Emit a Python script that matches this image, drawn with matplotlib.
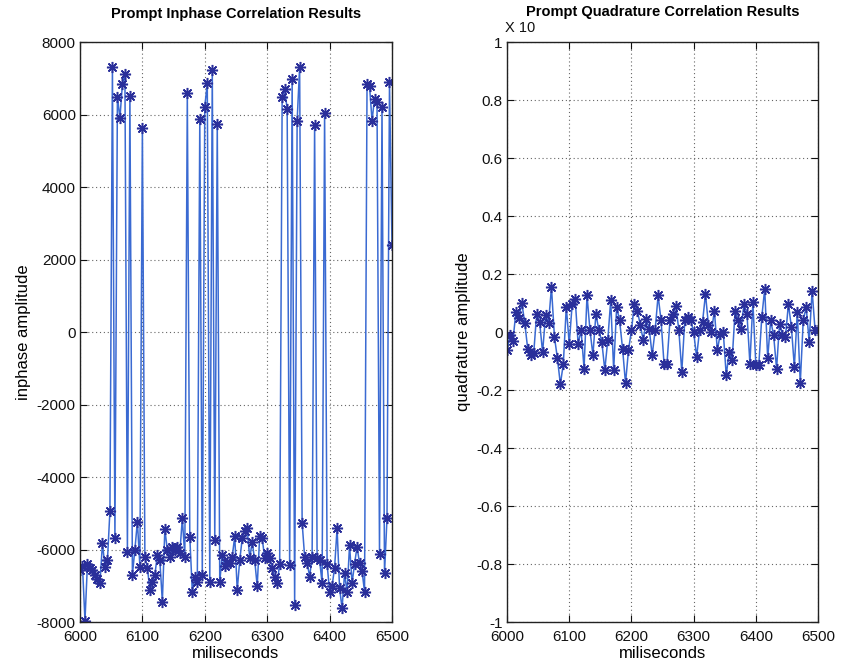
import numpy as np
import matplotlib
matplotlib.use("Agg")
import matplotlib.pyplot as plt

plt.rcParams['font.family'] = ['Liberation Sans', 'DejaVu Sans']
plt.rcParams['axes.unicode_minus'] = False

# In-phase prompt correlator output (one sample every 4 ms, 6000..6500 ms)
inphase = [
    -6570, -6450, -7960, -6390, -6500, -6570, -6700, -6800, -6930, -5830,
    -6470, -6300, -4930, 7300, -5690, 6490, 5900, 6840, 7120, -6060,
    6520, -6700, -6000, -5230, -6470, 5640, -6200, -6500, -7120, -6890,
    -6700, -6150, -6300, -7440, -5440, -6010, -6200, -5940, -6000, -5920,
    -6100, -5140, -6200, 6600, -5660, -7160, -6750, -6900, 5880, -6700,
    6220, 6860, -6890, 7230, -5740, 5740, -6890, -6150, -6460, -6360,
    -6360, -6200, -5630, -7120, -6300, -5690, -5480, -5420, -6240, -5790,
    -6300, -7010, -5630, -5690, -6240, -6100, -6240, -6500, -6750, -6930,
    -6400, 6490, 6700, 6150, -6430, 6980, -7530, 5830, 7310, -5260,
    -6200, -6360, -6750, -6200, 5710, -6240, -6300, -6930, 6050, -6400,
    -7160, -7010, -6500, -5420, -7070, -7620, -6660, -7180, -5880, -6930,
    -6400, -5920, -6380, -6600, -7160, 6830, 6790, 5830, 6440, 6350,
    -6120, 6220, -6660, -5140, 6890, 2400,
]

# Quadrature prompt correlator output (raw units, axis shown as x 10^4)
quadrature = [
    -630, -110, -300, 700, 500, 1000, 300, -600, -800, -740,
    630, 340, -700, 570, 300, 1540, -170, -900, -1800, -1100,
    860, -400, 970, 1140, -400, 60, -1260, 1260, 60, -800,
    630, 60, -340, -1310, -290, 1090, -1310, 860, 400, -570,
    -1770, -630, 60, 970, 740, 230, -290, 460, 110, -800,
    60, 1260, 400, -1090, -1090, 400, 630, 910, 60, -1370,
    400, 510, 400, 0, -860, 60, 340, 1310, 230, 0,
    740, -630, -60, 0, -1490, -690, -970, 740, 400, 110,
    970, 630, -1090, 1030, -1140, -1140, 510, 1490, -910, 400,
    -110, -1260, 290, -110, -170, 970, 170, -1200, 690, -1770,
    400, 860, -340, 1430, 60, 60,
]

t_start, t_end = 6000, 6500
ms_i = np.linspace(t_start, t_end, len(inphase))
ms_q = np.linspace(t_start, t_end, len(quadrature))

x_ticks = [6000, 6100, 6200, 6300, 6400, 6500]
yi_ticks = [-8000, -6000, -4000, -2000, 0, 2000, 4000, 6000, 8000]
yq_ticks = [-1, -0.8, -0.6, -0.4, -0.2, 0, 0.2, 0.4, 0.6, 0.8, 1]
yq_labels = ['-1', '-0.8', '-0.6', '-0.4', '-0.2', '0', '0.2', '0.4', '0.6', '0.8', '1']

line_c = '#3a6ad2'
mark_c = '#2a2f9a'
asterisk = (8, 2, 0)

fig = plt.figure(figsize=(8.41, 6.72), dpi=100)
fig.patch.set_facecolor('white')

ax1 = fig.add_axes([0.0951, 0.0744, 0.3710, 0.8631])
ax2 = fig.add_axes([0.6029, 0.0744, 0.3698, 0.8631])

def style(ax):
    ax.set_xlim(t_start, t_end)
    ax.set_xticks(x_ticks)
    ax.grid(True, linestyle=(0, (1, 2.5)), color='#666666', linewidth=0.8)
    ax.tick_params(direction='in', top=True, right=True, length=5,
                   labelsize=11, colors='#111111')
    ax.tick_params(axis='x', pad=6)
    ax.tick_params(axis='y', pad=3)
    for s in ax.spines.values():
        s.set_linewidth(1.0)
        s.set_color('#222222')

ax1.plot(ms_i, inphase, '-', color=line_c, lw=1.1)
ax1.plot(ms_i, inphase, ls='none', marker=asterisk, color=mark_c, ms=8, mew=1.1)
style(ax1)
ax1.set_ylim(-8000, 8000)
ax1.set_yticks(yi_ticks)
ax1.set_title('Prompt Inphase Correlation Results', fontsize=10.5,
              fontweight='bold', pad=17)
ax1.set_xlabel('miliseconds', fontsize=12, labelpad=1)
ax1.set_ylabel('inphase amplitude', fontsize=12, labelpad=4)

qs = np.array(quadrature) / 1e4
ax2.plot(ms_q, qs, '-', color=line_c, lw=1.1)
ax2.plot(ms_q, qs, ls='none', marker=asterisk, color=mark_c, ms=8, mew=1.1)
style(ax2)
ax2.set_ylim(-1, 1)
ax2.set_yticks(yq_ticks)
ax2.set_yticklabels(yq_labels)
ax2.set_title('Prompt Quadrature Correlation Results', fontsize=10.5,
              fontweight='bold', pad=19)
ax2.set_xlabel('miliseconds', fontsize=12, labelpad=1)
ax2.set_ylabel('quadrature amplitude', fontsize=12, labelpad=4)
ax2.text(-0.005, 1.012, 'X 10', transform=ax2.transAxes, fontsize=10.5,
         ha='left', va='bottom', color='#111111')

fig.savefig('out.png', dpi=100, facecolor='white')
